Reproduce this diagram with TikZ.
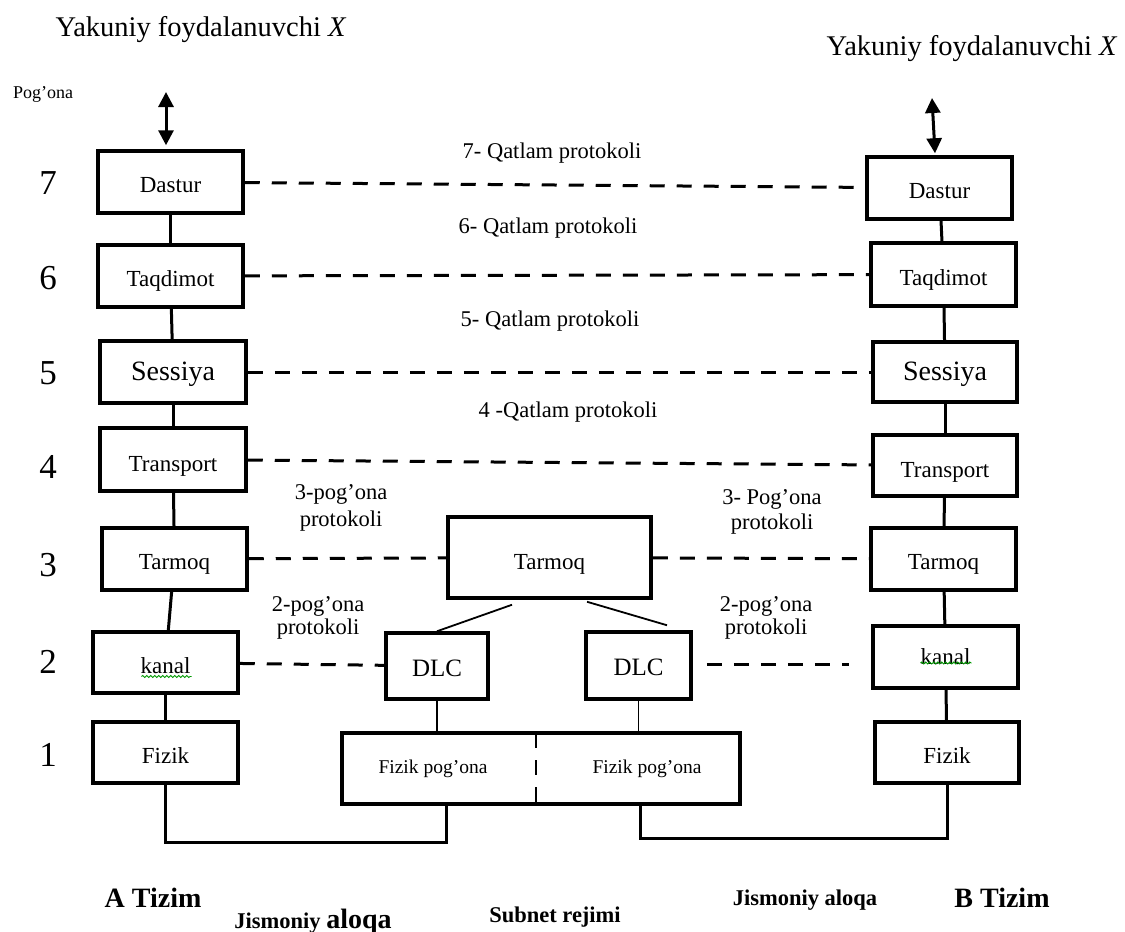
\documentclass[tikz,border=0pt]{standalone}
\usepackage{fontspec}
\setmainfont{Liberation Serif}
\usetikzlibrary{arrows.meta,calc,decorations.pathmorphing}
\newcommand\fsz[2]{\fontsize{#1}{#2}\selectfont}
\begin{document}
\begin{tikzpicture}[x=1pt,y=-1pt,
 box/.style 2 args={draw,line width=3.5pt,inner sep=0pt,minimum width=#1pt,minimum height=#2pt,font=\fsz{23}{27},text height=21pt,text depth=0pt},
 link/.style={line width=3pt},
 slim/.style={line width=1.8pt},
 proto/.style={line width=3pt,dash pattern=on 15pt off 12pt},
 lbl/.style={inner sep=0pt,font=\fsz{22.5}{25},align=center},
 num/.style={inner sep=0pt,font=\fsz{35}{40}},
 tizim/.style={inner sep=0pt,font=\fsz{28}{32}\bfseries,anchor=base},
 bot/.style={inner sep=0pt,font=\fsz{22.5}{26}\bfseries,anchor=base},
 updown/.style={line width=3pt,{Triangle[width=15pt,length=15pt]}-{Triangle[width=15pt,length=15pt]}},
 wavy/.style={draw=green!60!black,line width=0.9pt,decorate,decoration={snake,segment length=4pt,amplitude=1pt}}
]
\useasboundingbox[fill=white] (0,0) rectangle (1125,932);

% titles
\node[lbl,anchor=base,font=\fsz{28.5}{32}] (yL) at (201,36) {Yakuniy foydalanuvchi \textit{X}};
\node[lbl,anchor=base,font=\fsz{28.5}{32}] (yR) at (972,55) {Yakuniy foydalanuvchi \textit{X}};
\node[lbl,anchor=base,font=\fsz{18}{20}] (pog) at (43,98) {Pog’ona};

% layer numbers
\node[num] (n7) at (48,183) {7};
\node[num] (n6) at (48,278) {6};
\node[num] (n5) at (48,373) {5};
\node[num] (n4) at (48,467) {4};
\node[num] (n3) at (48,565) {3};
\node[num] (n2) at (48,662) {2};
\node[num] (n1) at (48,755) {1};

% left system
\node[box={145}{62}] (LDa) at (170.5,182) {Dastur};
\node[box={145}{62}] (LTa) at (170.5,276) {Taqdimot};
\node[box={146}{62},font=\fsz{28}{32},text height=16pt] (LSe) at (173,372) {Sessiya};
\node[box={146}{63},text height=24pt] (LTr) at (173,459.5) {Transport};
\node[box={145}{62}] (LTm) at (174.5,559) {Tarmoq};
\node[box={145}{61}] (LKa) at (165.5,662.5) {kanal};
\node[box={145}{61}] (LFi) at (165.5,752.5) {Fizik};

% right system
\node[box={145}{62}] (RDa) at (939.5,188) {Dastur};
\node[box={145}{63}] (RTa) at (943.5,274.5) {Taqdimot};
\node[box={144}{60},font=\fsz{28}{32},text height=16pt] (RSe) at (945,372) {Sessiya};
\node[box={144}{61},text height=24pt] (RTr) at (945,465.5) {Transport};
\node[box={145}{62}] (RTm) at (943.5,559) {Tarmoq};
\node[box={145}{62},text height=14pt] (RKa) at (945.5,657) {kanal};
\node[box={144}{61}] (RFi) at (947,752.5) {Fizik};

% subnet
\node[box={203}{81},text height=23pt] (MTm) at (549.5,557.5) {Tarmoq};
\node[box={102}{66},font=\fsz{25}{30},text height=20pt] (DL) at (437,666) {DLC};
\node[box={105}{67},font=\fsz{25}{30},text height=20pt] (DR) at (638.5,665.5) {DLC};
\node[box={398}{71}] (FP) at (541,768.5) {};
\node[lbl,font=\fsz{19.5}{23}] (fpl) at (433,769) {Fizik pog’ona};
\node[lbl,font=\fsz{19.5}{23}] (fpr) at (647,769) {Fizik pog’ona};

% vertical links
\draw[link] (LDa) -- (LTa);
\draw[link] (LTa) -- (LSe);
\draw[link] (LSe) -- (LTr);
\draw[link] (LTr) -- (LTm);
\draw[link] (LTm) -- (LKa);
\draw[link] (LKa) -- (LFi);
\draw[link] (RDa) -- (RTa);
\draw[link] (RTa) -- (RSe);
\draw[link] (RSe) -- (RTr);
\draw[link] (RTr) -- (RTm);
\draw[link] (RTm) -- (RKa);
\draw[link] (RKa) -- (RFi);

% protocols
\draw[proto] (LDa) -- (RDa);
\draw[proto] (LTa) -- (RTa);
\draw[proto] (LSe) -- (RSe);
\draw[proto] (LTr) -- (RTr);
\draw[proto] (LTm) -- (MTm);
\draw[proto] (MTm) -- (RTm);
\draw[proto] (LKa) -- (DL);
\draw[proto,shorten <=14pt,shorten >=22pt] ($(DR.east)+(0,-1.5)$) -- ($(DR.east -| RKa.west)+(0,-1.5)$);

% subnet links
\draw[slim] ($(MTm.south)+(-37.5,5)$) -- (DL.north);
\draw[slim] ($(MTm.south)+(37.5,2)$) -- ($(DR.north)+(28.5,-5)$);
\draw[slim] (DL.south) -- (DL.south |- FP.north);
\draw[slim] (DR.south) -- (DR.south |- FP.north);
\draw[line width=2.5pt,dash pattern=on 15pt off 12pt] ($(FP.north)+(-5,2)$) -- ($(FP.south)+(-5,0)$);

% physical links
\coordinate (jL) at (446,842);
\coordinate (jR) at (640,838);
\draw[link] (LFi.south) |- (jL) -- (jL |- FP.south);
\draw[link] (jR |- FP.south) -- (jR) -| (RFi.south);

% user arrows
\coordinate (aL) at (166,92);
\coordinate (aR) at (932,98);
\draw[updown] (aL) -- ($(aL |- LDa.north)+(0,-4)$);
\draw[updown] (aR) -- ($(RDa.north)+(-4.5,-2)$);

% spell-check underlines
\draw[wavy] ($(LKa.center)+(-24,14)$) -- ($(LKa.center)+(26,14)$);
\draw[wavy] ($(RKa.center)+(-25,6)$) -- ($(RKa.center)+(26,6)$);

% protocol labels
\node[lbl,anchor=base] (p7) at (552,158) {7- Qatlam protokoli};
\node[lbl,anchor=base] (p6) at (548,233) {6- Qatlam protokoli};
\node[lbl,anchor=base] (p5) at (550,326) {5- Qatlam protokoli};
\node[lbl,anchor=base] (p4) at (568,417) {4 -Qatlam protokoli};
\node[lbl,font=\fsz{22.5}{27}] (p3L) at (341,508.4) {3-pog’ona\\protokoli};
\node[lbl] (p3R) at (772,512.4) {3- Pog’ona\\protokoli};
\node[lbl,font=\fsz{22.5}{23}] (p2L) at (318,618.4) {2-pog’ona\\protokoli};
\node[lbl,font=\fsz{22.5}{23}] (p2R) at (766,618.4) {2-pog’ona\\protokoli};

% bottom labels
\node[tizim] (aT) at (153,907) {A Tizim};
\node[tizim] (bT) at (1002,907) {B Tizim};
\node[bot] (sub) at (555,922) {Subnet rejimi};
\node[bot] (jaR) at (805,905) {Jismoniy aloqa};
\node[bot] (jaL) at (313,928) {Jismoniy {\fsz{28}{32}aloqa}};
\end{tikzpicture}
\end{document}
